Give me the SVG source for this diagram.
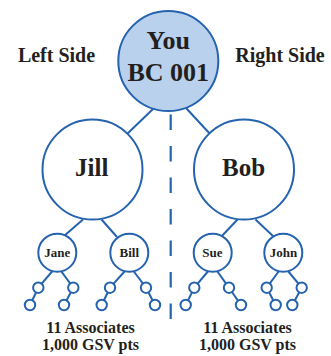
<svg xmlns="http://www.w3.org/2000/svg" width="331" height="356" viewBox="0 0 331 356">
<style>
.ln{stroke:#2563ae;stroke-width:2;fill:none}
.dash{stroke:#2563ae;stroke-width:2.2;fill:none;stroke-dasharray:15.5 16}
.nd{stroke:#2563ae;stroke-width:2;fill:#ffffff}
.root{stroke:#2563ae;stroke-width:2;fill:#b9d1ec}
.t{font-family:"Liberation Serif","Times New Roman",serif;font-weight:bold;fill:#231f20;text-anchor:middle}
</style>
<rect width="331" height="356" fill="#ffffff"/>
<g id="connectors">
<line class="ln" x1="153" y1="109" x2="126" y2="135"/>
<line class="ln" x1="186" y1="108" x2="211" y2="135"/>
<line class="dash" x1="170.7" y1="114.5" x2="170.7" y2="321"/>
<line class="ln" x1="83" y1="219.5" x2="64" y2="236"/>
<line class="ln" x1="101.5" y1="219.5" x2="117" y2="237"/>
<line class="ln" x1="237.5" y1="219.5" x2="220" y2="238"/>
<line class="ln" x1="255.5" y1="219.5" x2="274" y2="237"/>
<!-- Jane -->
<line class="ln" x1="52.5" y1="271" x2="38.3" y2="287.7"/>
<line class="ln" x1="61" y1="271" x2="73.3" y2="287.7"/>
<line class="ln" x1="38.3" y1="287.7" x2="30" y2="305"/>
<line class="ln" x1="73.3" y1="287.7" x2="64" y2="305"/>
<!-- Bill -->
<line class="ln" x1="125" y1="271" x2="110" y2="287.7"/>
<line class="ln" x1="133.5" y1="271" x2="146" y2="287.7"/>
<line class="ln" x1="110" y1="287.7" x2="101.7" y2="305"/>
<line class="ln" x1="146" y1="287.7" x2="155" y2="305"/>
<!-- Sue -->
<line class="ln" x1="208.3" y1="271" x2="194.3" y2="287.7"/>
<line class="ln" x1="217" y1="271" x2="229" y2="287.7"/>
<line class="ln" x1="194.3" y1="287.7" x2="185.7" y2="305"/>
<line class="ln" x1="229" y1="287.7" x2="241" y2="305"/>
<!-- John -->
<line class="ln" x1="279" y1="271" x2="266.7" y2="287.7"/>
<line class="ln" x1="288" y1="271" x2="301.7" y2="287.7"/>
<line class="ln" x1="266.7" y1="287.7" x2="275.7" y2="305"/>
<line class="ln" x1="301.7" y1="287.7" x2="292.3" y2="305"/>
</g>
<g id="node-you">
<circle class="root" cx="168.3" cy="61" r="50"/>
<text class="t" x="168.3" y="49" font-size="26">You</text>
<text class="t" x="168.3" y="81" font-size="26">BC 001</text>
</g>
<g id="label-left"><text class="t" x="56.5" y="62" font-size="20">Left Side</text></g>
<g id="label-right"><text class="t" x="280" y="62" font-size="20">Right Side</text></g>
<g id="node-jill">
<circle class="nd" cx="92.5" cy="169.5" r="50"/>
<text class="t" x="91.7" y="175.5" font-size="25">Jill</text>
</g>
<g id="node-bob">
<circle class="nd" cx="244" cy="169.5" r="50"/>
<text class="t" x="243.5" y="175.5" font-size="25">Bob</text>
</g>
<g id="node-jane">
<circle class="nd" cx="57.3" cy="252.7" r="19"/>
<text class="t" x="57.3" y="257.3" font-size="13">Jane</text>
</g>
<g id="node-bill">
<circle class="nd" cx="129.3" cy="252.7" r="19"/>
<text class="t" x="129.3" y="257.3" font-size="13">Bill</text>
</g>
<g id="node-sue">
<circle class="nd" cx="212.7" cy="252.7" r="19"/>
<text class="t" x="212.4" y="257.3" font-size="13">Sue</text>
</g>
<g id="node-john">
<circle class="nd" cx="283.3" cy="252.7" r="19"/>
<text class="t" x="283.5" y="257.3" font-size="13">John</text>
</g>
<g id="leaves">
<circle class="nd" cx="38.3" cy="287.7" r="5.2"/>
<circle class="nd" cx="73.3" cy="287.7" r="5.2"/>
<circle class="nd" cx="30" cy="305" r="5.2"/>
<circle class="nd" cx="64" cy="305" r="5.2"/>
<circle class="nd" cx="110" cy="287.7" r="5.2"/>
<circle class="nd" cx="146" cy="287.7" r="5.2"/>
<circle class="nd" cx="101.7" cy="305" r="5.2"/>
<circle class="nd" cx="155" cy="305" r="5.2"/>
<circle class="nd" cx="194.3" cy="287.7" r="5.2"/>
<circle class="nd" cx="229" cy="287.7" r="5.2"/>
<circle class="nd" cx="185.7" cy="305" r="5.2"/>
<circle class="nd" cx="241" cy="305" r="5.2"/>
<circle class="nd" cx="266.7" cy="287.7" r="5.2"/>
<circle class="nd" cx="301.7" cy="287.7" r="5.2"/>
<circle class="nd" cx="275.7" cy="305" r="5.2"/>
<circle class="nd" cx="292.3" cy="305" r="5.2"/>
</g>
<g id="summary-left">
<text class="t" x="90.5" y="332.5" font-size="16">11 Associates</text>
<text class="t" x="90.5" y="349.5" font-size="16">1,000 GSV pts</text>
</g>
<g id="summary-right">
<text class="t" x="247.5" y="332.5" font-size="16">11 Associates</text>
<text class="t" x="247.5" y="349.5" font-size="16">1,000 GSV pts</text>
</g>
</svg>
